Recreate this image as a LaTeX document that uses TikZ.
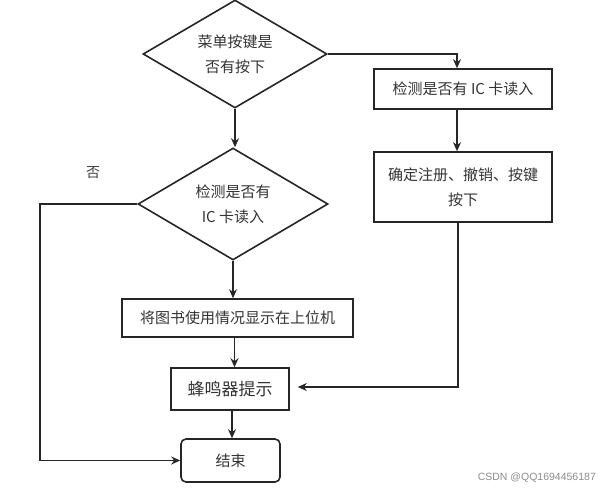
\documentclass[tikz,border=0pt]{standalone}
\usepackage{fontspec}
\newfontfamily\cjk{Noto Sans CJK SC}
\newfontfamily\wm{Liberation Sans}
\usetikzlibrary{shapes.geometric,arrows.meta}
\begin{document}
\begin{tikzpicture}[x=1pt,y=-1pt,
  line width=1.6pt,
  base/.style={draw=black!85, font=\cjk\fontsize{15}{25}\selectfont, text=black!80, align=center, inner sep=0pt},
  dia/.style={base, shape=diamond, aspect=1.7},
  box/.style={base, rectangle},
  arr/.style={draw=black!85, -{Stealth[length=9pt,width=8pt]}}]
\useasboundingbox (0,0) rectangle (610,489);
\node[dia, minimum width=184pt, minimum height=108pt] (d1) at (235,54) {菜单按键是\\否有按下};
\node[box, minimum width=178pt, minimum height=40pt] (b1) at (463,89) {检测是否有 IC 卡读入};
\node[box, minimum width=178pt, minimum height=70pt] (b2) at (463,187) {确定注册、撤销、按键\\按下};
\node[dia, minimum width=190pt, minimum height=112pt] (d2) at (233,204) {检测是否有\\IC 卡读入};
\node[box, minimum width=231pt, minimum height=38pt] (b3) at (237.5,318) {将图书使用情况显示在上位机};
\node[box, minimum width=118pt, minimum height=42pt, font=\cjk\fontsize{17}{20}\selectfont] (b4) at (230,389) {蜂鸣器提示};
\node[box, rounded corners=5pt, minimum width=99pt, minimum height=43pt] (e) at (230.5,460.5) {结束};
\node[font=\cjk\fontsize{14}{16}\selectfont, text=black!75] (no) at (93,173) {否};
\node[font=\wm\fontsize{10.5}{12}\selectfont, text=black!45, anchor=east] (wm) at (600,478) {CSDN @QQ1694456187};
\coordinate (lc) at (40,204);
\draw[arr] (d1.east) -| ([xshift=-6pt]b1.north);
\draw[arr] ([xshift=-6pt]b1.south) -- ([xshift=-6pt]b2.north);
\draw[arr] ([xshift=-5pt]b2.south) |- ([xshift=8pt,yshift=2pt]b4.east);
\draw[arr] (d1.south) -- (d1.south |- d2.north);
\draw[arr] (d2.west) -- (lc) |- (e.west);
\draw[arr] (d2.south) -- (d2.south |- b3.north);
\draw[arr] ([xshift=-3pt]b3.south) -- ([xshift=-3pt]b3.south |- b4.north);
\draw[arr] ([xshift=2pt]b4.south) -- ([xshift=2pt]b4.south |- e.north);
\end{tikzpicture}
\end{document}
